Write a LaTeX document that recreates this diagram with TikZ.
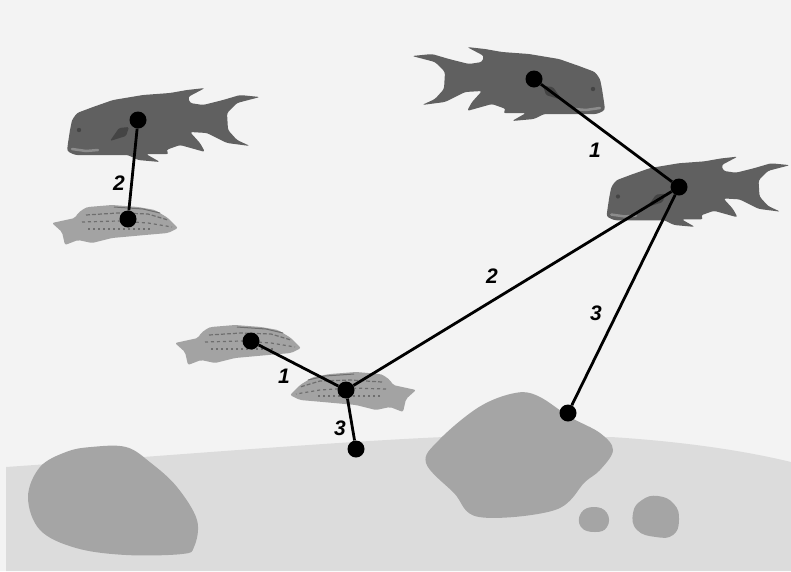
\documentclass[tikz,border=0pt]{standalone}
\usepackage{fontspec}
\setmainfont{Liberation Sans}
\begin{document}
\begin{tikzpicture}[x=1pt,y=-1pt]
\definecolor{water}{HTML}{F3F3F3}
\definecolor{sand}{HTML}{DCDCDC}
\definecolor{stone}{HTML}{A5A5A5}
\definecolor{hogbody}{HTML}{606060}
\definecolor{hogdark}{HTML}{444444}
\definecolor{wrassebody}{HTML}{A3A3A3}
\definecolor{wrassestripe}{HTML}{6E6E6E}
\tikzset{
  dot/.style={circle, fill=black, inner sep=0pt, minimum size=17pt},
  link/.style={line width=2.8pt, black},
  lbl/.style={font=\fontsize{21}{21}\selectfont\bfseries\itshape, inner sep=1pt},
  rock/.style={fill=stone},
  bigfish/.pic={
    \fill[hogbody, rounded corners=2.5pt]
      (-71,31) -- (-70,23) -- (-68,10) -- (-66,0) -- (-61,-7) -- (-45,-13)
      -- (-25,-20) -- (5,-25) -- (32,-27) -- (49,-30) -- (67,-32) -- (50,-23)
      -- (52,-17) -- (65,-15) -- (85,-20) -- (102,-25) -- (122,-23) -- (99,-17)
      -- (89,-7) -- (90,10) -- (99,20) -- (112,26) -- (89,23) -- (69,13)
      -- (52,12) -- (62,23) -- (67,32) -- (42,25) -- (28,30) -- (31,34)
      -- (8,34) -- (22,42) -- (0,40) -- (-10,35) -- (-28,35) -- (-63,35) -- cycle;
    \fill[hogdark, rounded corners=1.5pt] (-28,21) -- (-19,8) -- (-9,7) -- (-12,16) -- cycle;
    \fill[hogdark] (-59,10) circle (2.2);
    \draw[gray!75, line width=2.5pt, line cap=round, opacity=0.7] (-66,29) -- (-52,31) -- (-40,30);
  },
  smallfish/.pic={
    \fill[wrassebody, rounded corners=2pt]
      (50,9) -- (40,-1) -- (27,-9) -- (10,-12) -- (-16,-14) -- (-40,-12)
      -- (-43,-11) -- (-50,-6) -- (-53,-1) -- (-76,4) -- (-66,13) -- (-63,26)
      -- (-50,21) -- (-36,24) -- (-16,19) -- (17,16) -- (40,14) -- cycle;
    \draw[wrassestripe, line width=1.2pt, dash pattern=on 4pt off 2pt]
      (-42,-4) -- (-10,-6) -- (20,-5) -- (40,1);
    \draw[wrassestripe, line width=1.2pt, dash pattern=on 3pt off 3pt]
      (-46,3) -- (-10,2) -- (20,4) -- (44,8);
    \draw[wrassestripe, line width=1.1pt, dash pattern=on 2pt off 3pt]
      (-40,10) -- (-10,10) -- (22,10);
    \draw[wrassestripe, line width=1pt] (-14,-12) -- (15,-10) -- (32,-6);
  }
}
\useasboundingbox (0,0) rectangle (791,571);
% water and sea floor
\fill[water] (0,0) rectangle (791,571);
\fill[sand] (6,571) -- (6,467) .. controls (150,457) and (330,442) .. (444,437)
  -- (611,437) .. controls (690,442) and (750,452) .. (791,462) -- (791,571) -- cycle;
% stones
\fill[rock] plot[smooth cycle, tension=0.6] coordinates {
  (91,447) (126,447) (151,463) (177,487) (197,520) (194,547) (182,554)
  (126,555) (76,548) (40,530) (28,497) (40,467) (66,452)};
\fill[rock] plot[smooth cycle, tension=0.6] coordinates {
  (515,393) (538,396) (570,417) (600,433) (613,450) (600,470) (585,482)
  (555,510) (479,517) (454,493) (426,463) (439,440) (479,407)};
\fill[rock] plot[smooth cycle, tension=0.8] coordinates {
  (594,507) (607,513) (607,527) (595,532) (581,527) (581,513)};
\fill[rock] plot[smooth cycle, tension=0.8] coordinates {
  (658,496) (674,504) (679,520) (673,535) (656,537) (637,530) (633,513) (642,500)};
% fish
\pic at (138,120) {bigfish};
\pic[xscale=-1] at (534,79) {bigfish};
\pic[scale=0.95] at (674,187) {bigfish};
\pic at (128,219) {smallfish};
\pic at (251,339) {smallfish};
\pic[xscale=-1] at (340,386) {smallfish};
% positions
\node[dot] (a) at (138,120) {};
\node[dot] (b) at (128,219) {};
\node[dot] (c) at (534,79) {};
\node[dot] (d) at (679,187) {};
\node[dot] (e) at (251,341) {};
\node[dot] (f) at (346,390) {};
\node[dot] (g) at (356,449) {};
\node[dot] (h) at (568,413) {};
% distances
\draw[link] (a) -- (b);
\draw[link] (c) -- (d);
\draw[link] (d) -- (f);
\draw[link] (d) -- (h);
\draw[link] (e) -- (f);
\draw[link] (f) -- (g);
\node[lbl] (l1) at (119,183) {2};
\node[lbl] (l2) at (595,150) {1};
\node[lbl] (l3) at (492,276) {2};
\node[lbl] (l4) at (596,313) {3};
\node[lbl] (l5) at (284,376) {1};
\node[lbl] (l6) at (340,428) {3};
\end{tikzpicture}
\end{document}
